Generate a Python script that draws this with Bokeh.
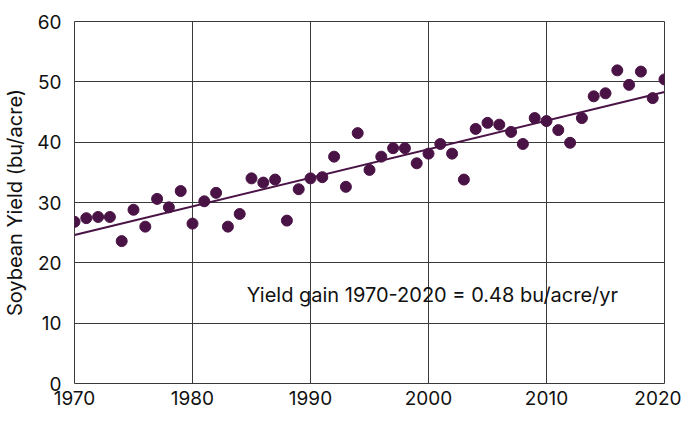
from bokeh.plotting import figure
from bokeh.models import Range1d, FixedTicker, Label
from bokeh.embed import file_html
from bokeh.resources import INLINE

years = list(range(1970, 2021))
yields = [26.8, 27.4, 27.6, 27.6, 23.6, 28.8, 26.0, 30.6, 29.2, 31.9,
          26.5, 30.2, 31.6, 26.0, 28.1, 34.0, 33.3, 33.8, 27.0, 32.2,
          34.0, 34.2, 37.6, 32.6, 41.5, 35.4, 37.6, 39.0, 39.0, 36.5,
          38.1, 39.7, 38.1, 33.8, 42.2, 43.2, 42.9, 41.7, 39.7, 44.0,
          43.5, 42.0, 39.9, 44.0, 47.6, 48.1, 51.9, 49.5, 51.7, 47.3,
          50.4]
trend_years = [1970, 2020]
trend_values = [24.6, 48.3]
x_ticks = [1970, 1980, 1990, 2000, 2010, 2020]
y_ticks = [0, 10, 20, 30, 40, 50, 60]
annotation = "Yield gain 1970-2020 = 0.48 bu/acre/yr"

FONT = "Inter"
COL = "#4a1346"
GRID = "#3a3a3a"

p = figure(frame_width=590, frame_height=362,
           min_border_left=60, min_border_right=17,
           min_border_top=21, min_border_bottom=25,
           output_backend="svg", toolbar_location=None,
           x_range=Range1d(1970, 2020), y_range=Range1d(0, 60))

p.outline_line_color = GRID
p.outline_line_width = 1
p.background_fill_color = "white"
p.border_fill_color = "white"

for ax in (p.xaxis[0], p.yaxis[0]):
    ax.axis_line_color = None
    ax.major_tick_line_color = None
    ax.minor_tick_line_color = None
    ax.major_label_text_font = FONT
    ax.major_label_text_font_size = "19px"
    ax.major_label_text_color = "#111111"

p.xaxis.ticker = FixedTicker(ticks=x_ticks)
p.yaxis.ticker = FixedTicker(ticks=y_ticks)
p.xaxis.major_label_standoff = 1
p.yaxis.major_label_standoff = 7
p.yaxis.axis_label = "Soybean Yield (bu/acre)"
p.yaxis.axis_label_text_font = FONT
p.yaxis.axis_label_text_font_size = "20px"
p.yaxis.axis_label_text_font_style = "normal"
p.yaxis.axis_label_text_color = "#111111"
p.yaxis.axis_label_standoff = 7

p.xgrid.grid_line_color = GRID
p.ygrid.grid_line_color = GRID
p.xgrid.grid_line_width = 1
p.ygrid.grid_line_width = 1

p.line(trend_years, trend_values, line_color=COL, line_width=2)
p.scatter(years, yields, size=11, fill_color=COL, line_color=COL)

p.add_layout(Label(x=1984.6, y=14.6, text=annotation, text_font=FONT,
                   text_font_size="20px", text_baseline="middle",
                   text_color="#111111"))

open("out.html", "w").write(file_html(p, INLINE))
